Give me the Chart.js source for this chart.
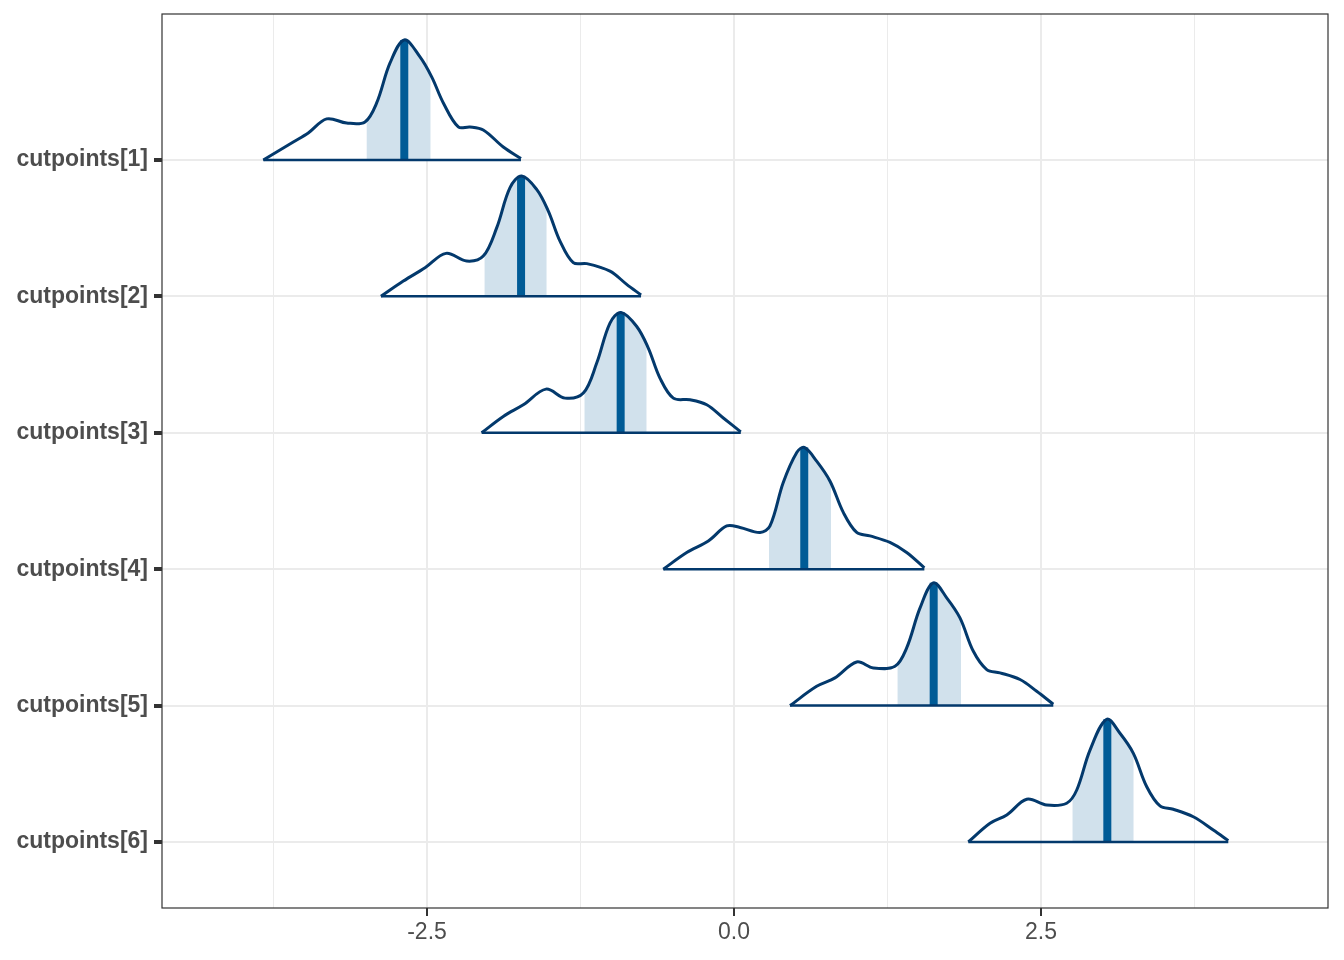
<!DOCTYPE html>
<html>
<head>
<meta charset="utf-8">
<script src="https://cdn.jsdelivr.net/npm/chart.js@4.4.1/dist/chart.umd.min.js"></script>
<style>
  html, body { margin: 0; padding: 0; background: #fff; }
  #wrap { width: 1344px; height: 960px; }
</style>
</head>
<body>
<div id="wrap"><canvas id="chartAreas"></canvas></div>
<script>
const labels = ['cutpoints[1]', 'cutpoints[2]', 'cutpoints[3]', 'cutpoints[4]', 'cutpoints[5]', 'cutpoints[6]']
const xTicks = [-3.75, -2.5, -1.25, 0, 1.25, 2.5, 3.75]
const xLabelTicks = [-2.5, 0, 2.5]

// densidades: [x, altura]
const dens1 = [[-3.833, 0], [-3.589, 0.132], [-3.467, 0.198], [-3.317, 0.301], [-3.154, 0.271], [-3.005, 0.279],
  [-2.910, 0.418], [-2.801, 0.711], [-2.685, 0.880], [-2.557, 0.755], [-2.462, 0.609], [-2.367, 0.418],
  [-2.245, 0.242], [-2.150, 0.242], [-2.042, 0.220], [-1.879, 0.095], [-1.735, 0.01]]
const dens2 = [[-2.875, 0], [-2.693, 0.112], [-2.516, 0.210], [-2.345, 0.315], [-2.177, 0.259], [-2.042, 0.295],
  [-1.932, 0.504], [-1.824, 0.797], [-1.729, 0.882], [-1.607, 0.784], [-1.512, 0.625], [-1.417, 0.405],
  [-1.309, 0.247], [-1.199, 0.240], [-1.010, 0.185], [-0.874, 0.088], [-0.757, 0.01]]
const dens3 = [[-2.055, 0], [-1.879, 0.120], [-1.716, 0.205], [-1.531, 0.320], [-1.376, 0.254], [-1.227, 0.291],
  [-1.118, 0.511], [-1.010, 0.804], [-0.920, 0.882], [-0.792, 0.779], [-0.698, 0.621], [-0.603, 0.401],
  [-0.494, 0.254], [-0.358, 0.242], [-0.222, 0.205], [-0.087, 0.108], [0.055, 0.007]]
const dens4 = [[-0.576, 0], [-0.385, 0.122], [-0.209, 0.207], [-0.059, 0.317], [0.049, 0.306], [0.212, 0.269],
  [0.293, 0.317], [0.401, 0.636], [0.511, 0.856], [0.572, 0.892], [0.673, 0.792], [0.782, 0.645],
  [0.890, 0.416], [0.999, 0.269], [1.107, 0.244], [1.270, 0.196], [1.406, 0.122], [1.550, 0.01]]
const dens5 = [[0.456, 0], [0.673, 0.141], [0.822, 0.203], [0.999, 0.320], [1.134, 0.276], [1.311, 0.288],
  [1.406, 0.423], [1.515, 0.716], [1.623, 0.900], [1.732, 0.790], [1.840, 0.643], [1.949, 0.398],
  [2.058, 0.264], [2.166, 0.240], [2.329, 0.191], [2.465, 0.105], [2.600, 0.01]]
const dens6 = [[1.908, 0], [2.085, 0.137], [2.221, 0.198], [2.384, 0.313], [2.546, 0.271], [2.709, 0.284],
  [2.791, 0.381], [2.899, 0.674], [3.035, 0.900], [3.143, 0.797], [3.252, 0.650], [3.361, 0.405],
  [3.469, 0.264], [3.577, 0.240], [3.740, 0.185], [3.903, 0.088], [4.025, 0.01]]

// intervalo 50% (zona sombreada)
const shade1 = [[-2.993, 0.293], [-2.910, 0.418], [-2.801, 0.711], [-2.685, 0.880], [-2.557, 0.755], [-2.470, 0.616]]
const shade2 = [[-2.033, 0.308], [-1.932, 0.504], [-1.824, 0.797], [-1.729, 0.882], [-1.607, 0.784], [-1.525, 0.645]]
const shade3 = [[-1.219, 0.300], [-1.118, 0.511], [-1.010, 0.804], [-0.920, 0.882], [-0.792, 0.779], [-0.711, 0.645]]
const shade4 = [[0.285, 0.310], [0.293, 0.317], [0.401, 0.636], [0.511, 0.856], [0.572, 0.892], [0.673, 0.792], [0.790, 0.640]]
const shade5 = [[1.330, 0.293], [1.406, 0.423], [1.515, 0.716], [1.623, 0.900], [1.732, 0.790], [1.849, 0.630]]
const shade6 = [[2.755, 0.330], [2.791, 0.381], [2.899, 0.674], [3.035, 0.900], [3.143, 0.797], [3.255, 0.645]]

const medians = [-2.685, -1.734, -0.923, 0.572, 1.626, 3.040]
const medianHeights = [0.880, 0.882, 0.882, 0.892, 0.900, 0.900]

const densities = [dens1, dens2, dens3, dens4, dens5, dens6]
const shades = [shade1, shade2, shade3, shade4, shade5, shade6]

const lineColor = '#03396c'
const medianColor = '#005b96'
const fillColor = '#d1e1ec'
const fontFamily = '"Liberation Sans", Arial, Helvetica, sans-serif'

const datasets = []
densities.forEach((dens, i) => {
  const base = 6 - i // cutpoints[1] arriba
  const toPts = arr => arr.map(p => ({ x: p[0], y: base + p[1] }))
  datasets.push({
    data: toPts(shades[i]),
    borderWidth: 0,
    backgroundColor: fillColor,
    fill: { value: base },
    tension: 0.35,
    order: 30,
  })
  datasets.push({
    data: [{ x: medians[i], y: base }, { x: medians[i], y: base + medianHeights[i] }],
    borderColor: medianColor,
    borderWidth: 8,
    fill: false,
    order: 20,
  })
  datasets.push({
    data: toPts(dens),
    borderColor: lineColor,
    borderWidth: 3,
    fill: false,
    tension: 0.35,
    order: 10,
  })
  datasets.push({
    data: [{ x: dens[0][0], y: base }, { x: dens[dens.length - 1][0], y: base }],
    borderColor: lineColor,
    borderWidth: 2.5,
    fill: false,
    order: 10,
  })
})

const panelBorder = {
  id: 'panelBorder',
  afterDatasetsDraw(chart) {
    const { ctx, chartArea } = chart
    ctx.save()
    ctx.strokeStyle = '#333333'
    ctx.lineWidth = 1.2
    ctx.strokeRect(chartArea.left, chartArea.top, chartArea.right - chartArea.left, chartArea.bottom - chartArea.top)
    ctx.restore()
  },
}

new Chart(document.getElementById('chartAreas'), {
  type: 'line',
  data: { datasets },
  options: {
    responsive: true,
    maintainAspectRatio: false,
    animation: false,
    layout: { padding: { top: 14, right: 16, left: 0, bottom: 0 } },
    elements: {
      point: { radius: 0, hoverRadius: 0 },
      line: { borderJoinStyle: 'round', borderCapStyle: 'butt' },
    },
    plugins: { legend: { display: false }, tooltip: { enabled: false } },
    scales: {
      x: {
        type: 'linear',
        min: -4.658,
        max: 4.837,
        afterBuildTicks: scale => {
          scale.ticks = xTicks.map(v => ({ value: v }))
        },
        afterFit: scale => {
          scale.height = 52
          scale.paddingLeft = 0
          scale.paddingRight = 0
        },
        border: { display: false },
        grid: {
          color: '#ebebeb',
          lineWidth: c => (xLabelTicks.includes(c.tick?.value) ? 2 : 1),
          tickColor: c => (xLabelTicks.includes(c.tick?.value) ? '#333333' : 'rgba(0,0,0,0)'),
          tickWidth: 2,
          tickLength: 8,
        },
        ticks: {
          padding: 3,
          color: '#4d4d4d',
          font: { family: fontFamily, size: 23 },
          maxRotation: 0,
          autoSkip: false,
          callback: v => (xLabelTicks.includes(v) ? v.toFixed(1) : ''),
        },
      },
      y: {
        type: 'linear',
        min: 0.516,
        max: 7.07,
        afterBuildTicks: scale => {
          scale.ticks = [1, 2, 3, 4, 5, 6].map(v => ({ value: v }))
        },
        afterFit: scale => {
          scale.width = 162
          scale.paddingTop = 0
          scale.paddingBottom = 0
        },
        border: { display: false },
        grid: {
          color: '#ebebeb',
          lineWidth: 2,
          tickColor: '#333333',
          tickWidth: 4,
          tickLength: 8,
        },
        ticks: {
          padding: 6,
          color: '#4d4d4d',
          font: { family: fontFamily, size: 23, weight: 'bold' },
          autoSkip: false,
          callback: v => labels[6 - v],
        },
      },
    },
  },
  plugins: [panelBorder],
})
</script>
</body>
</html>
